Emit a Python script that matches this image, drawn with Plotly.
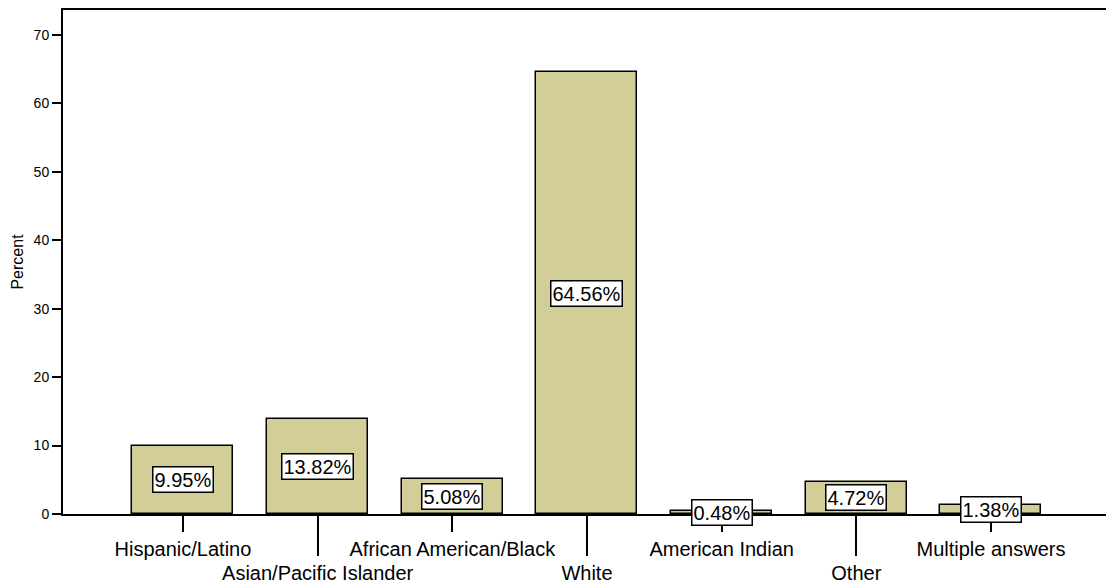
import plotly.graph_objects as go

# Categorias e percentuais
categorias = ['Hispanic/Latino', 'Asian/Pacific Islander', 'African American/Black', 'White',
              'American Indian', 'Other', 'Multiple answers']
percentuais = [9.95, 13.82, 5.08, 64.56, 0.48, 4.72, 1.38]
rotulos = ['9.95%', '13.82%', '5.08%', '64.56%', '0.48%', '4.72%', '1.38%']
ticks_y = [0, 10, 20, 30, 40, 50, 60, 70]

posicoes = list(range(len(categorias)))
pares = posicoes[0::2]
impares = posicoes[1::2]
faixa_x = [-0.891, 6.854]

fonte = 'Liberation Sans, Arial, sans-serif'

fig = go.Figure()
fig.add_trace(go.Bar(x=posicoes, y=percentuais, width=0.75,
                     marker=dict(color='#d3ce98', line=dict(color='black', width=1.5)),
                     hoverinfo='x+y', showlegend=False))
# traço vazio só para o segundo eixo x (rótulos da segunda linha)
fig.add_trace(go.Scatter(x=[], y=[], xaxis='x2', showlegend=False))

for p, v, t in zip(posicoes, percentuais, rotulos):
    fig.add_annotation(x=p, y=v / 2, text=t, showarrow=False,
                       font=dict(size=20, color='black', family=fonte),
                       bgcolor='white', bordercolor='black', borderwidth=1.5, borderpad=1)

fig.update_layout(
    width=1106, height=585,
    margin=dict(l=63, r=0, t=10, b=71),
    plot_bgcolor='white', paper_bgcolor='white',
    font=dict(family=fonte, color='black'),
    bargap=0,
    xaxis=dict(range=faixa_x, tickmode='array', tickvals=pares,
               ticktext=[categorias[i] for i in pares], automargin=False,
               ticks='outside', ticklen=16, tickwidth=1.5, tickcolor='black',
               showline=True, linecolor='black', linewidth=1.5, mirror=True,
               showgrid=False, zeroline=False, tickfont=dict(size=20)),
    xaxis2=dict(range=faixa_x, overlaying='x', side='bottom', anchor='y',
                tickmode='array', tickvals=impares, automargin=False,
                ticktext=[categorias[i] for i in impares],
                ticks='outside', ticklen=41, tickwidth=1.5, tickcolor='black',
                showline=False, showgrid=False, zeroline=False, tickfont=dict(size=20)),
    yaxis=dict(range=[0, 73.65], tickmode='array', tickvals=ticks_y, automargin=False,
               ticks='outside', ticklen=9, tickwidth=1.5, tickcolor='black',
               showline=True, linecolor='black', linewidth=2,
               showgrid=False, zeroline=False, tickfont=dict(size=14),
               title=dict(text='Percent', font=dict(size=16), standoff=6)),
)

# tira a margem padrão do <body> para a figura ocupar a janela inteira
fig.write_html('out.html', config={'displayModeBar': False},
               post_script="document.body.style.margin='0';")
